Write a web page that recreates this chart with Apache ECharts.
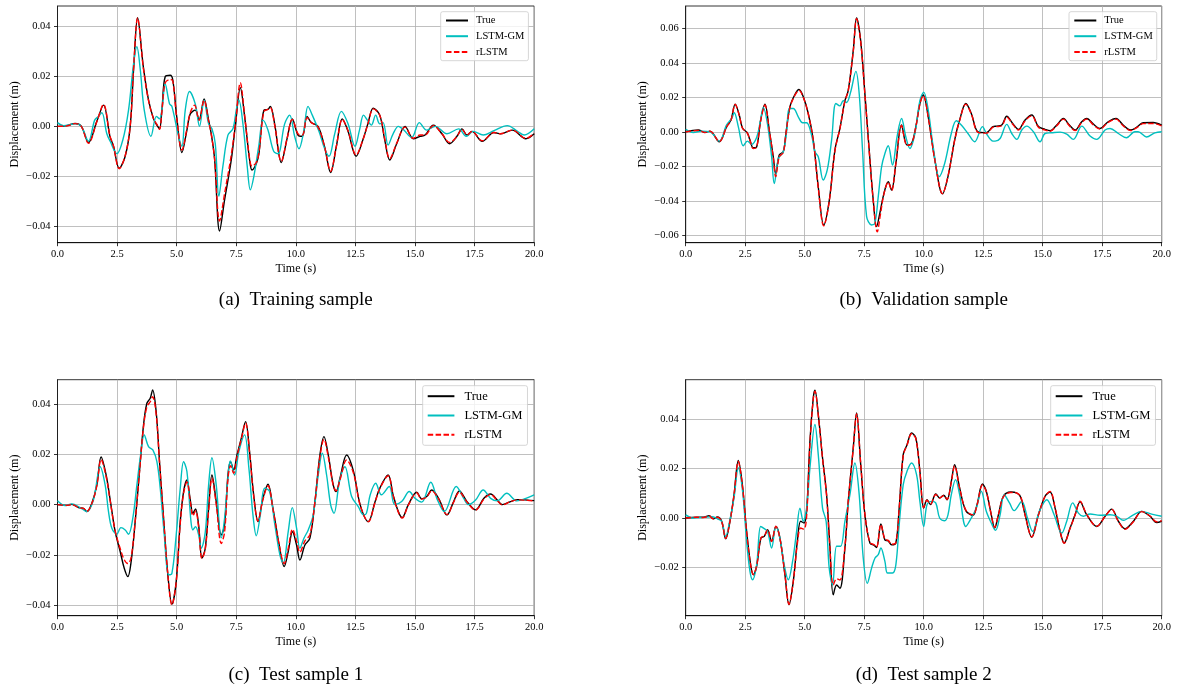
<!DOCTYPE html>
<html><head><meta charset="utf-8">
<script src="https://cdn.jsdelivr.net/npm/echarts@6/dist/echarts.min.js"></script>
<style>html,body{margin:0;padding:0;background:#fff}#c{width:1179px;height:693px}</style>
</head><body><div id="c"></div>
<script>
// ---------- data: [time (s), displacement (m)] ----------
const seriesNames = ['True', 'LSTM-GM', 'rLSTM'];
const xTicks = [0, 2.5, 5, 7.5, 10, 12.5, 15, 17.5, 20];
const aYTicks = [-0.04, -0.02, 0, 0.02, 0.04];
const bYTicks = [-0.06, -0.04, -0.02, 0, 0.02, 0.04, 0.06];
const cYTicks = [-0.04, -0.02, 0, 0.02, 0.04];
const dYTicks = [-0.02, 0, 0.02, 0.04];
const captions = ['(a)  Training sample', '(b)  Validation sample', '(c)  Test sample 1', '(d)  Test sample 2'];

const aTrue = [[0,0],[0.4,0.0003],[0.74,0.0012],[1.0,0],[1.3,-0.0065],[1.65,0.002],[1.93,0.0085],[2.2,-0.004],[2.35,-0.008],[2.59,-0.0168],[2.84,-0.012],[3.05,0],[3.2,0.024],[3.36,0.0436],[3.6,0.024],[3.82,0.0105],[4.03,0.003],[4.17,0.0005],[4.28,-0.001],[4.38,0.0065],[4.52,0.02],[4.73,0.0205],[4.84,0.0185],[5.0,0.004],[5.22,-0.0105],[5.43,-0.0015],[5.57,0.005],[5.78,0.0065],[5.94,0.0025],[6.15,0.011],[6.34,0.0025],[6.45,-0.003],[6.59,-0.013],[6.8,-0.042],[7.01,-0.0295],[7.29,-0.0135],[7.47,0.001],[7.67,0.0155],[7.85,0.004],[8.06,-0.0135],[8.16,-0.0175],[8.34,-0.015],[8.45,-0.011],[8.66,0.0065],[8.83,0.0068],[8.93,0.008],[9.11,0.001],[9.39,-0.0145],[9.63,-0.005],[9.85,0.003],[10.09,-0.0035],[10.27,-0.004],[10.47,0.004],[10.65,0.0015],[10.93,0],[11.2,-0.008],[11.46,-0.0185],[11.7,-0.008],[11.95,0.003],[12.19,-0.002],[12.53,-0.012],[12.81,-0.0055],[13.02,0.001],[13.25,0.0073],[13.52,0.0045],[13.73,-0.0055],[13.94,-0.0135],[14.23,-0.007],[14.58,0],[14.93,-0.005],[15.21,-0.004],[15.42,-0.0035],[15.77,0.0005],[16.13,-0.003],[16.45,-0.007],[16.76,-0.004],[16.97,-0.001],[17.18,-0.0035],[17.39,-0.002],[17.82,-0.006],[18.31,-0.0025],[18.59,-0.003],[19.08,-0.0015],[19.65,-0.005],[20,-0.003]];
const aGM = [[0,0.0015],[0.25,0.0003],[0.74,0.001],[1.0,0],[1.3,-0.006],[1.56,0.0025],[1.72,0.004],[1.86,0.0055],[2.07,-0.003],[2.21,-0.006],[2.49,-0.011],[2.74,-0.0055],[2.98,0.0065],[3.19,0.025],[3.33,0.032],[3.47,0.023],[3.64,0.0065],[3.92,-0.004],[4.15,0.004],[4.28,0.003],[4.38,0.0065],[4.52,0.017],[4.7,0.009],[4.8,0.008],[5.08,-0.004],[5.22,-0.008],[5.36,0.0065],[5.54,0.014],[5.78,0.009],[5.96,0],[6.15,0.0105],[6.34,0.001],[6.48,-0.001],[6.62,-0.007],[6.77,-0.028],[6.94,-0.016],[7.15,-0.0035],[7.36,-0.001],[7.5,0.0065],[7.61,0.0105],[7.78,0.001],[7.96,-0.016],[8.09,-0.0255],[8.24,-0.02],[8.45,-0.0075],[8.62,0.0025],[8.83,-0.0015],[9.07,-0.01],[9.25,-0.011],[9.53,0.001],[9.74,0.0045],[9.95,-0.004],[10.13,-0.009],[10.33,-0.002],[10.51,0.008],[10.69,0.0045],[10.97,-0.002],[11.21,-0.009],[11.39,-0.012],[11.63,-0.003],[11.91,0.006],[12.19,0.001],[12.48,-0.008],[12.67,-0.0015],[12.84,0.0045],[13.0,0.0025],[13.17,0.0005],[13.35,0.0045],[13.52,0.001],[13.66,0.0015],[13.87,-0.0075],[14.08,-0.003],[14.3,0],[14.51,-0.0013],[14.86,-0.0045],[15.18,0.0015],[15.49,-0.0015],[15.85,0],[16.34,-0.003],[16.83,-0.001],[17.15,-0.004],[17.44,-0.002],[17.86,-0.0035],[18.31,-0.0017],[18.87,0.0003],[19.3,-0.002],[19.58,-0.0035],[20,-0.001]];
const aRL = [[0,0],[0.4,0.0002],[0.74,0.0011],[1.0,0],[1.3,-0.0068],[1.65,0.0018],[1.93,0.0088],[2.2,-0.0038],[2.35,-0.008],[2.59,-0.017],[2.84,-0.0118],[3.05,0],[3.2,0.0245],[3.36,0.0435],[3.6,0.0235],[3.82,0.0103],[4.03,0.003],[4.17,0.0008],[4.28,-0.0012],[4.38,0.006],[4.52,0.0175],[4.73,0.0188],[4.84,0.0182],[5.0,0.0035],[5.22,-0.0095],[5.43,-0.001],[5.57,0.0055],[5.75,0.0085],[5.94,0.0025],[6.15,0.0105],[6.34,0.002],[6.45,-0.003],[6.59,-0.013],[6.8,-0.038],[7.01,-0.027],[7.29,-0.0115],[7.47,0.0015],[7.67,0.0175],[7.85,0.0045],[8.06,-0.013],[8.16,-0.016],[8.34,-0.0145],[8.45,-0.0105],[8.66,0.006],[8.83,0.0068],[8.93,0.0075],[9.11,0.0005],[9.39,-0.014],[9.63,-0.005],[9.85,0.0028],[10.09,-0.003],[10.27,-0.0035],[10.47,0.0035],[10.65,0.0015],[10.93,-0.0003],[11.2,-0.008],[11.46,-0.018],[11.7,-0.008],[11.95,0.0028],[12.19,-0.0018],[12.53,-0.0115],[12.81,-0.0055],[13.02,0.0008],[13.25,0.007],[13.52,0.0045],[13.73,-0.005],[13.94,-0.013],[14.23,-0.0068],[14.58,-0.0003],[14.93,-0.0048],[15.21,-0.0035],[15.42,-0.0035],[15.77,0.0003],[16.13,-0.003],[16.45,-0.0065],[16.76,-0.004],[16.97,-0.0012],[17.18,-0.0035],[17.39,-0.002],[17.82,-0.0058],[18.31,-0.0025],[18.59,-0.003],[19.08,-0.0015],[19.65,-0.0048],[20,-0.0028]];

const bTrue = [[0,0],[0.53,0.001],[0.81,-0.0004],[1.02,0.0004],[1.41,-0.0058],[1.72,0.003],[1.9,0.0068],[2.08,0.016],[2.25,0.0097],[2.39,0.002],[2.59,-0.0006],[2.7,-0.0048],[2.84,-0.0093],[2.98,-0.0088],[3.15,0.0068],[3.33,0.016],[3.51,0.001],[3.68,-0.0145],[3.78,-0.0245],[3.93,-0.0135],[4.1,-0.0116],[4.21,-0.001],[4.38,0.0145],[4.59,0.0216],[4.76,0.0245],[4.94,0.0203],[5.15,0.0106],[5.36,-0.0048],[5.57,-0.032],[5.8,-0.054],[6.03,-0.04],[6.27,-0.0106],[6.48,0.002],[6.69,0.018],[6.83,0.024],[7.04,0.047],[7.18,0.066],[7.35,0.053],[7.53,0.022],[7.71,-0.0106],[7.88,-0.0396],[8.02,-0.055],[8.16,-0.047],[8.33,-0.0357],[8.51,-0.029],[8.65,-0.0338],[8.83,-0.0184],[9.07,0.0039],[9.3,-0.0077],[9.49,-0.0068],[9.67,0.003],[9.84,0.0164],[9.98,0.0213],[10.19,0.0087],[10.47,-0.0164],[10.79,-0.036],[11.02,-0.026],[11.3,-0.0048],[11.51,0.0068],[11.77,0.0164],[12.0,0.0106],[12.28,0],[12.63,-0.0005],[12.91,0.003],[13.07,0.0033],[13.28,0.0039],[13.49,0.009],[13.74,0.0048],[13.98,0.0014],[14.26,0.0068],[14.54,0.0097],[14.82,0.003],[15.1,0.0014],[15.31,0.0006],[15.59,0.0039],[15.87,0.0077],[16.12,0.0039],[16.36,0.001],[16.64,0.0058],[16.85,0.0077],[17.13,0.0044],[17.4,0.0019],[17.75,0.0058],[18.08,0.0077],[18.38,0.0039],[18.69,0.001],[18.94,0.0025],[19.22,0.0052],[19.64,0.0054],[20,0.0039]];
const bGM = [[0,0.0014],[0.32,-0.0004],[0.67,0.0004],[1.02,0],[1.41,-0.0054],[1.72,0.004],[1.93,0.0077],[2.04,0.011],[2.21,0.003],[2.42,-0.0081],[2.59,-0.0054],[2.77,-0.0073],[2.98,-0.0033],[3.12,0.0048],[3.26,0.014],[3.43,0.005],[3.61,-0.0145],[3.72,-0.03],[3.9,-0.0155],[4.1,-0.0116],[4.24,0],[4.35,0.0135],[4.52,0.0135],[4.73,0.0087],[4.91,0.0052],[5.08,0.0052],[5.29,-0.002],[5.43,-0.0116],[5.57,-0.0145],[5.78,-0.028],[5.95,-0.022],[6.13,-0.0048],[6.31,0.0164],[6.48,0.015],[6.62,0.018],[6.76,0.017],[6.93,0.023],[7.15,0.035],[7.29,0.022],[7.43,-0.0106],[7.6,-0.049],[7.81,-0.054],[7.95,-0.053],[8.09,-0.0377],[8.23,-0.0203],[8.37,-0.0126],[8.51,-0.0081],[8.69,-0.0193],[8.88,-0.0029],[9.07,0.0077],[9.25,-0.003],[9.42,-0.0097],[9.63,-0.001],[9.84,0.018],[10.0,0.023],[10.19,0.0126],[10.4,-0.0087],[10.65,-0.026],[10.88,-0.0184],[11.16,-0.001],[11.37,0.0064],[11.58,0.0039],[11.86,-0.001],[12.14,-0.0058],[12.47,0.003],[12.63,-0.001],[12.91,-0.0054],[13.0,-0.0054],[13.21,-0.0039],[13.49,0.0043],[13.7,-0.001],[13.91,-0.0044],[14.12,0.001],[14.33,0.0033],[14.61,0],[14.89,-0.0058],[15.1,-0.001],[15.38,-0.0006],[15.73,-0.0002],[16.01,-0.0014],[16.29,-0.0044],[16.64,0.0033],[16.99,-0.0025],[17.27,-0.0044],[17.62,0.001],[17.83,0.0019],[18.18,-0.001],[18.52,-0.0035],[18.87,0],[19.01,0],[19.36,-0.003],[19.71,-0.0006],[20,0]];
const bRL = [[0,0],[0.53,0.0008],[0.81,-0.0004],[1.02,0.0003],[1.41,-0.0056],[1.72,0.0028],[1.9,0.0066],[2.08,0.0158],[2.25,0.0095],[2.39,0.002],[2.59,-0.0008],[2.7,-0.005],[2.84,-0.0097],[2.98,-0.009],[3.15,0.0065],[3.33,0.0155],[3.51,0.001],[3.68,-0.015],[3.78,-0.026],[3.93,-0.0145],[4.1,-0.012],[4.21,-0.0015],[4.38,0.014],[4.59,0.0212],[4.76,0.024],[4.94,0.02],[5.15,0.0103],[5.36,-0.005],[5.57,-0.0325],[5.8,-0.0545],[6.03,-0.0405],[6.27,-0.011],[6.48,0.0018],[6.69,0.0178],[6.83,0.0238],[7.04,0.0465],[7.18,0.0655],[7.35,0.0525],[7.53,0.0215],[7.71,-0.0112],[7.88,-0.04],[8.05,-0.058],[8.18,-0.048],[8.33,-0.036],[8.51,-0.0292],[8.65,-0.034],[8.83,-0.0185],[9.07,0.0036],[9.3,-0.0078],[9.49,-0.007],[9.67,0.0027],[9.84,0.016],[9.98,0.021],[10.19,0.0085],[10.47,-0.0166],[10.79,-0.0358],[11.02,-0.0258],[11.3,-0.005],[11.51,0.0065],[11.77,0.016],[12.0,0.0103],[12.28,-0.0003],[12.63,-0.0008],[12.91,0.0027],[13.07,0.003],[13.28,0.0035],[13.49,0.0085],[13.74,0.0044],[13.98,0.001],[14.26,0.0064],[14.54,0.0092],[14.82,0.0026],[15.1,0.001],[15.31,0.0003],[15.59,0.0035],[15.87,0.0073],[16.12,0.0035],[16.36,0.0007],[16.64,0.0054],[16.85,0.0073],[17.13,0.004],[17.4,0.0016],[17.75,0.0054],[18.08,0.0073],[18.38,0.0035],[18.69,0.0007],[18.94,0.0022],[19.22,0.0047],[19.64,0.0048],[20,0.0034]];

const cTrue = [[0,0],[0.39,-0.0003],[0.6,0.0001],[0.88,-0.0012],[1.09,-0.0015],[1.23,-0.0028],[1.44,0.0005],[1.65,0.0078],[1.83,0.019],[2.04,0.0118],[2.21,0.0019],[2.42,-0.0108],[2.63,-0.0187],[2.8,-0.0254],[2.95,-0.0287],[3.09,-0.0227],[3.26,-0.0068],[3.44,0.0132],[3.61,0.0318],[3.75,0.0404],[3.89,0.0424],[3.99,0.0457],[4.14,0.037],[4.28,0.0171],[4.45,-0.0054],[4.63,-0.028],[4.8,-0.0397],[4.98,-0.0307],[5.15,-0.0068],[5.29,0.0052],[5.43,0.0098],[5.57,0.0019],[5.68,-0.0035],[5.79,-0.0017],[5.92,-0.0081],[6.06,-0.0213],[6.2,-0.0174],[6.34,-0.0015],[6.48,0.0118],[6.66,0.0012],[6.87,-0.0121],[7.01,-0.0081],[7.15,0.0118],[7.26,0.0171],[7.39,0.0138],[7.53,0.0198],[7.71,0.0264],[7.89,0.0331],[8.06,0.0209],[8.23,0.0039],[8.41,-0.0068],[8.62,0.0025],[8.83,0.0081],[9.04,-0.0015],[9.3,-0.0161],[9.51,-0.0247],[9.68,-0.0187],[9.86,-0.0108],[10.03,-0.0161],[10.17,-0.0221],[10.38,-0.0161],[10.59,-0.0134],[10.8,0.0012],[11.01,0.0198],[11.18,0.0271],[11.36,0.0198],[11.57,0.0078],[11.69,0.0052],[11.85,0.0105],[12.13,0.0198],[12.42,0.0132],[12.7,-0.0001],[13.04,-0.0068],[13.32,0.001],[13.52,0.0065],[13.87,0.0118],[14.08,0.0039],[14.3,-0.0028],[14.46,-0.0052],[14.72,0],[15.07,0.0049],[15.28,0.0023],[15.49,0.0032],[15.7,0.0058],[15.99,0.0025],[16.34,-0.0041],[16.62,0.0012],[16.86,0.0054],[17.18,0.0012],[17.54,-0.0021],[17.89,0.0025],[18.17,0.0042],[18.45,0.0018],[18.66,0],[19.01,0.0012],[19.3,0.002],[19.72,0.0018],[20,0.0016]];
const cGM = [[0,0.0015],[0.32,-0.0004],[0.6,0.0003],[0.95,-0.0012],[1.23,-0.0028],[1.51,0.0019],[1.79,0.0151],[2.0,0.0078],[2.14,-0.0028],[2.28,-0.0094],[2.49,-0.0118],[2.66,-0.0092],[2.84,-0.0101],[2.98,-0.0118],[3.16,-0.0054],[3.33,0.0078],[3.47,0.0185],[3.64,0.0278],[3.82,0.0231],[4.0,0.0218],[4.17,0.0171],[4.31,0.0065],[4.48,-0.0121],[4.66,-0.028],[4.8,-0.0274],[4.98,-0.0121],[5.15,0.0065],[5.29,0.0171],[5.43,0.0132],[5.6,-0.0068],[5.68,-0.0101],[5.79,-0.0088],[5.92,-0.012],[6.03,-0.0174],[6.2,-0.011],[6.34,0.0078],[6.48,0.0187],[6.66,0.0078],[6.87,-0.0132],[7.01,-0.0055],[7.15,0.0105],[7.25,0.0174],[7.43,0.0118],[7.61,0.0211],[7.85,0.0278],[8.03,0.0145],[8.2,-0.0041],[8.34,-0.0124],[8.51,-0.0041],[8.69,0.0065],[8.9,0.0052],[9.12,-0.0081],[9.33,-0.02],[9.47,-0.0234],[9.68,-0.0108],[9.85,-0.0012],[10.03,-0.0094],[10.17,-0.0174],[10.34,-0.0134],[10.52,-0.0101],[10.73,-0.0041],[10.94,0.0118],[11.11,0.0205],[11.29,0.0118],[11.46,-0.0001],[11.6,-0.0035],[11.83,0.0092],[12.06,0.0151],[12.34,0.0032],[12.62,-0.0008],[12.84,-0.0041],[12.96,-0.0035],[13.12,0.0039],[13.35,0.0085],[13.59,0.0039],[13.92,0.0072],[14.15,0],[14.44,0.0012],[14.76,0.0052],[15.0,0.0025],[15.28,0.001],[15.66,0.0089],[15.94,0.0019],[16.23,-0.0028],[16.73,0.0072],[17.04,0.0025],[17.25,0],[17.54,0.0018],[17.86,0.0058],[18.17,0.0025],[18.45,0.0015],[18.85,0.0045],[19.27,0.0015],[19.65,0.0025],[20,0.0039]];
const cRL = [[0,0],[0.39,-0.0003],[0.6,0.0001],[0.88,-0.0012],[1.09,-0.0015],[1.23,-0.0027],[1.44,0.0004],[1.65,0.0075],[1.83,0.018],[2.04,0.0112],[2.21,0.0015],[2.42,-0.0105],[2.63,-0.0175],[2.8,-0.022],[2.95,-0.0235],[3.09,-0.021],[3.26,-0.0065],[3.44,0.013],[3.61,0.031],[3.75,0.039],[3.89,0.041],[3.99,0.043],[4.14,0.036],[4.28,0.017],[4.45,-0.0055],[4.63,-0.028],[4.8,-0.04],[4.98,-0.031],[5.15,-0.0075],[5.29,0.0045],[5.43,0.009],[5.57,0.0012],[5.68,-0.0045],[5.79,-0.0025],[5.92,-0.009],[6.06,-0.0215],[6.2,-0.0178],[6.34,-0.0025],[6.48,0.0105],[6.66,0],[6.87,-0.0155],[7.01,-0.011],[7.15,0.01],[7.26,0.0155],[7.39,0.0125],[7.53,0.019],[7.71,0.026],[7.89,0.0325],[8.06,0.0205],[8.23,0.0035],[8.41,-0.0065],[8.62,0.002],[8.83,0.0075],[9.04,-0.0018],[9.3,-0.016],[9.51,-0.0235],[9.68,-0.0175],[9.86,-0.0098],[10.03,-0.0145],[10.17,-0.019],[10.38,-0.0145],[10.59,-0.012],[10.8,0.001],[11.01,0.019],[11.18,0.026],[11.36,0.019],[11.57,0.0075],[11.69,0.0055],[11.85,0.0098],[12.13,0.0178],[12.42,0.0125],[12.7,-0.0003],[13.04,-0.0068],[13.32,0.0008],[13.52,0.0063],[13.87,0.0115],[14.08,0.0036],[14.3,-0.003],[14.46,-0.0054],[14.72,-0.0002],[15.07,0.0047],[15.28,0.0022],[15.49,0.003],[15.7,0.0055],[15.99,0.0022],[16.34,-0.004],[16.62,0.001],[16.86,0.005],[17.18,0.001],[17.54,-0.0022],[17.89,0.0022],[18.17,0.004],[18.45,0.0016],[18.66,-0.0001],[19.01,0.0012],[19.3,0.0019],[19.72,0.0017],[20,0.0015]];

const dTrue = [[0,0],[0.46,0.0003],[0.74,0.0003],[0.99,0.0009],[1.16,-0.0003],[1.33,0.0004],[1.51,-0.0013],[1.68,-0.0084],[1.86,-0.0013],[2.03,0.0094],[2.21,0.0232],[2.38,0.0135],[2.56,-0.0054],[2.73,-0.0189],[2.84,-0.0229],[2.98,-0.0195],[3.16,-0.0081],[3.3,-0.0074],[3.44,-0.0047],[3.61,-0.0094],[3.79,-0.0034],[3.96,-0.0081],[4.17,-0.0229],[4.34,-0.035],[4.52,-0.0256],[4.69,-0.0094],[4.83,-0.0013],[4.97,-0.002],[5.08,0.0027],[5.22,0.031],[5.36,0.0485],[5.43,0.0516],[5.57,0.0418],[5.75,0.0242],[5.92,0.0094],[6.05,-0.01],[6.2,-0.031],[6.34,-0.027],[6.48,-0.0283],[6.69,-0.0121],[6.83,0.0067],[7.04,0.0283],[7.18,0.0424],[7.35,0.022],[7.53,0.0013],[7.74,-0.0101],[7.92,-0.011],[8.02,-0.0119],[8.2,-0.0024],[8.37,-0.0088],[8.51,-0.0092],[8.65,-0.0108],[8.83,-0.0101],[8.97,0.004],[9.14,0.0256],[9.3,0.0296],[9.49,0.0343],[9.67,0.0323],[9.84,0.0189],[10.0,0.004],[10.14,0.0074],[10.28,0.0054],[10.51,0.0097],[10.67,0.0081],[10.84,0.0092],[10.98,0.0074],[11.16,0.0148],[11.3,0.0215],[11.51,0.0121],[11.77,0.003],[12.07,0.0011],[12.24,0.0054],[12.47,0.0137],[12.63,0.0108],[12.84,0.0013],[12.98,-0.004],[13.14,0.0013],[13.35,0.0088],[13.66,0.0105],[13.91,0.0101],[14.08,0.0083],[14.26,0.0013],[14.54,-0.0078],[14.82,0.0013],[15.1,0.0088],[15.31,0.0105],[15.52,0.004],[15.73,-0.0054],[15.9,-0.0101],[16.15,-0.004],[16.36,0.0013],[16.57,0.0065],[16.85,0.0013],[17.27,-0.0034],[17.62,0.0007],[17.9,0.0036],[18.18,-0.0013],[18.46,-0.0043],[18.81,-0.0013],[19.16,0.0027],[19.51,0.0007],[19.79,-0.0018],[20,-0.0013]];
const dGM = [[0,0.0013],[0.32,0],[0.74,0.0003],[1.09,0.0005],[1.33,-0.0003],[1.51,-0.0013],[1.68,-0.0074],[1.86,-0.0007],[2.03,0.0081],[2.21,0.0202],[2.39,0.0108],[2.56,-0.0094],[2.7,-0.0215],[2.81,-0.0249],[2.98,-0.0189],[3.15,-0.0034],[3.3,-0.0043],[3.44,-0.0054],[3.61,-0.0121],[3.79,-0.0034],[3.96,-0.0081],[4.14,-0.0189],[4.31,-0.0249],[4.49,-0.0175],[4.66,-0.0054],[4.8,0.004],[4.94,-0.0013],[5.08,0.004],[5.22,0.0202],[5.43,0.0377],[5.57,0.0256],[5.75,0.004],[5.9,-0.0013],[6.03,-0.0202],[6.17,-0.027],[6.34,-0.0114],[6.51,-0.0114],[6.69,-0.0013],[6.9,0.0094],[7.11,0.0222],[7.29,0.0094],[7.46,-0.0162],[7.63,-0.0263],[7.81,-0.0202],[7.95,-0.0162],[8.09,-0.0148],[8.2,-0.0121],[8.37,-0.0175],[8.48,-0.0222],[8.69,-0.0222],[8.83,-0.0189],[8.97,-0.0027],[9.14,0.0135],[9.3,0.0189],[9.49,0.0222],[9.7,0.0175],[9.84,0.0067],[10.0,-0.0034],[10.14,0.0054],[10.33,0.0067],[10.51,0.006],[10.67,0],[10.88,-0.0011],[11.02,0.0013],[11.16,0.0094],[11.34,0.0155],[11.51,0.0094],[11.77,-0.0034],[12.0,0],[12.21,0.004],[12.42,0.0108],[12.63,0.0027],[12.84,-0.002],[13.02,-0.005],[13.21,0.0013],[13.38,0.0094],[13.61,0.006],[13.8,0.003],[14.12,0.0067],[14.36,0],[14.58,-0.0054],[14.86,0.0027],[15.17,0.0074],[15.48,0.0013],[15.8,-0.0061],[16.01,-0.0013],[16.26,0.0061],[16.5,0.002],[16.71,0.0007],[16.99,0.0016],[17.41,0.0011],[17.83,0.0013],[18.11,0.0007],[18.39,-0.0009],[18.81,0.0013],[19.16,0.0027],[19.58,0.0016],[20,0.0007]];
const dRL = [[0,0],[0.46,0.0003],[0.74,0.0002],[0.99,0.0008],[1.16,-0.0003],[1.33,0.0003],[1.51,-0.0013],[1.68,-0.0082],[1.86,-0.0013],[2.03,0.0092],[2.21,0.0228],[2.38,0.0132],[2.56,-0.0056],[2.73,-0.019],[2.84,-0.0228],[2.98,-0.0193],[3.16,-0.008],[3.3,-0.0072],[3.44,-0.0048],[3.61,-0.0095],[3.79,-0.0033],[3.96,-0.0082],[4.17,-0.0228],[4.34,-0.0348],[4.52,-0.0255],[4.69,-0.0105],[4.83,-0.004],[4.97,-0.0045],[5.08,0.0005],[5.22,0.03],[5.36,0.048],[5.43,0.0512],[5.57,0.0415],[5.75,0.024],[5.92,0.009],[6.05,-0.0105],[6.2,-0.027],[6.34,-0.0245],[6.48,-0.025],[6.69,-0.0115],[6.83,0.0068],[7.04,0.028],[7.18,0.042],[7.35,0.0225],[7.53,0.0015],[7.74,-0.0098],[7.92,-0.0108],[8.02,-0.0117],[8.2,-0.0026],[8.37,-0.0086],[8.51,-0.009],[8.65,-0.0106],[8.83,-0.0099],[8.97,0.0038],[9.14,0.0252],[9.3,0.0294],[9.49,0.034],[9.67,0.032],[9.84,0.0186],[10.0,0.0042],[10.14,0.0072],[10.28,0.0056],[10.51,0.0095],[10.67,0.0081],[10.84,0.009],[10.98,0.0075],[11.16,0.0145],[11.3,0.021],[11.51,0.012],[11.77,0.0032],[12.07,0.0013],[12.24,0.0052],[12.47,0.0133],[12.63,0.0106],[12.84,0.0013],[12.98,-0.0038],[13.14,0.0013],[13.35,0.0086],[13.66,0.0103],[13.91,0.0101],[14.08,0.0085],[14.26,0.0013],[14.54,-0.0076],[14.82,0.0012],[15.1,0.0088],[15.31,0.0107],[15.52,0.0042],[15.73,-0.0052],[15.9,-0.0102],[16.15,-0.0042],[16.36,0.0012],[16.57,0.0068],[16.85,0.0015],[17.27,-0.0033],[17.62,0.0006],[17.9,0.0035],[18.18,-0.0014],[18.46,-0.0045],[18.81,-0.0015],[19.16,0.0026],[19.51,0.0008],[19.79,-0.0015],[20,-0.0011]];

// ---------- layout / style ----------
const FONT = "'Liberation Serif','Times New Roman',serif";
const panels = [
  {data:[aTrue,aGM,aRL], ticks:aYTicks, left:57.5, top:6, width:476.7, height:236.7, ymin:-0.0467, ymax:0.0483, legLeft:440.7, legTop:11.7, big:false, capX:295.8, capY:300},
  {data:[bTrue,bGM,bRL], ticks:bYTicks, left:685.7, top:6, width:476, height:236.7, ymin:-0.0643, ymax:0.0729, legLeft:1069, legTop:11.7, big:false, capX:923.7, capY:300},
  {data:[cTrue,cGM,cRL], ticks:cYTicks, left:57.5, top:379.7, width:476.7, height:236, ymin:-0.0443, ymax:0.0498, legLeft:422.7, legTop:385.7, big:true, capX:295.8, capY:675},
  {data:[dTrue,dGM,dRL], ticks:dYTicks, left:685.7, top:379.7, width:476, height:236, ymin:-0.0394, ymax:0.0558, legLeft:1050.7, legTop:385.7, big:true, capX:923.7, capY:675}
];
const colors = ['#000000', '#00bfbf', '#ff0000'];
const fmtY = v => (v < -1e-9 ? '\u2212' : '') + Math.abs(v).toFixed(2);

const option = {
  animation: false,
  backgroundColor: '#fff',
  grid: [], xAxis: [], yAxis: [], series: [], legend: [], graphic: []
};
panels.forEach((p, i) => {
  option.grid.push({left:p.left, top:p.top, width:p.width, height:p.height, show:true, borderColor:'#000', borderWidth:0.8, backgroundColor:'rgba(0,0,0,0)'});
  option.xAxis.push({
    type:'value', gridIndex:i, min:0, max:20, interval:2.5,
    name:'Time (s)', nameLocation:'middle', nameGap:20.5,
    nameTextStyle:{fontFamily:FONT, fontSize:12, color:'#000'},
    axisLine:{show:true, onZero:false, lineStyle:{color:'#000', width:0.8}},
    axisTick:{show:true, length:3.5, inside:false, lineStyle:{color:'#000', width:0.8}},
    axisLabel:{fontFamily:FONT, fontSize:10.5, color:'#000', margin:6, formatter:v => v.toFixed(1)},
    splitLine:{show:true, lineStyle:{color:'#b0b0b0', width:0.8}}
  });
  option.yAxis.push({
    type:'value', gridIndex:i, min:p.ymin, max:p.ymax, minInterval:0.02, maxInterval:0.02,
    name:'Displacement (m)', nameLocation:'middle', nameGap:36.5,
    nameTextStyle:{fontFamily:FONT, fontSize:12, color:'#000'},
    axisLine:{show:true, onZero:false, lineStyle:{color:'#000', width:0.8}},
    axisTick:{show:true, length:3.5, customValues:p.ticks, lineStyle:{color:'#000', width:0.8}},
    axisLabel:{fontFamily:FONT, fontSize:10.5, color:'#000', margin:7, customValues:p.ticks, formatter:fmtY},
    splitLine:{show:true, lineStyle:{color:'#b0b0b0', width:0.8}}
  });
  p.data.forEach((d, k) => {
    option.series.push({
      type:'line', name:seriesNames[k], xAxisIndex:i, yAxisIndex:i, data:d,
      smooth:0.35, symbol:'none', showSymbol:false, clip:true,
      lineStyle:{color:colors[k], width:1.4, type: k === 2 ? [5.5, 2.4] : 'solid'},
      itemStyle:{color:colors[k]}, z: 2 + k
    });
  });
  const fs = p.big ? 12.6 : 10.5;
  option.legend.push({
    data:seriesNames, orient:'vertical', left:p.legLeft, top:p.legTop,
    itemWidth: p.big ? 26.7 : 22, itemHeight: p.big ? 12 : 10, itemGap: p.big ? 6.3 : 4.7,
    padding: p.big ? [4, 5, 4, 4] : [3.3, 4, 3.3, 4.3],
    backgroundColor:'rgba(255,255,255,0.8)', borderColor:'#cccccc', borderWidth:0.8, borderRadius:2,
    itemStyle:{color:'rgba(0,0,0,0)', borderColor:'rgba(0,0,0,0)', borderWidth:0, opacity:0},
    textStyle:{fontFamily:FONT, fontSize:fs, color:'#000', padding:[0,0,0, p.big ? 5 : 3]},
    selectedMode:false
  });
  option.graphic.push({type:'text', x:p.capX, y:p.capY, z:10,
    style:{text:captions[i], font:'19px ' + FONT, fill:'#000', textAlign:'center', textVerticalAlign:'middle'}});
});

const chart = echarts.init(document.getElementById('c'), null, {renderer:'canvas'});
chart.setOption(option);
</script>
</body></html>
